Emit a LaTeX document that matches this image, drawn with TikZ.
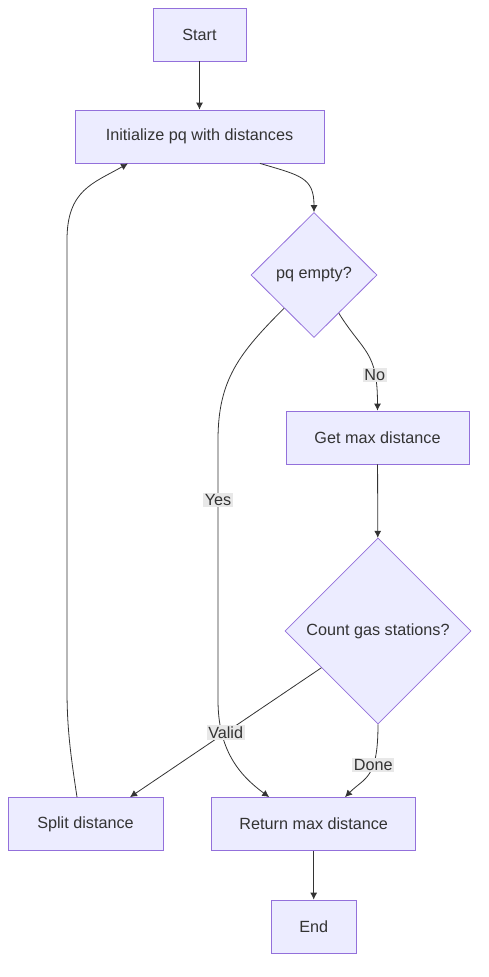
\documentclass[tikz,border=0pt]{standalone}
\usepackage{fontspec}
\setmainfont{Liberation Sans}
\usetikzlibrary{positioning,arrows,arrows.meta,shapes.geometric}

\definecolor{boxfill}{HTML}{ECECFF}
\definecolor{boxline}{HTML}{9370DB}
\definecolor{ink}{HTML}{333333}
\definecolor{lblfill}{HTML}{E8E8E8}

\begin{document}
\begin{tikzpicture}[x=1pt,y=-1pt,>={Latex[length=7pt,width=7pt]},
	every node/.style={font=\fontsize{16.2}{19}\selectfont,text=ink},
	box/.style={rectangle,draw=boxline,fill=boxfill,line width=0.8pt,minimum height=53pt,inner sep=0pt},
	decision/.style={diamond,draw=boxline,fill=boxfill,line width=0.8pt,inner sep=0pt,aspect=1},
	lbl/.style={fill=lblfill,inner sep=1.5pt},
	edge/.style={->,draw=ink,line width=0.8pt}]

			\useasboundingbox (0,0) rectangle (488,977);

			%top nodes
			\node [box,minimum width=93pt] (n1) at (199.5,34.5) {Start};
			\node [box,minimum width=249pt] (n2) at (199.5,136.5) {Initialize pq with distances};

			%decisions
			\node [decision,minimum width=126pt,minimum height=125pt] (n3) at (314,275) {pq empty?};
			\node [box,minimum width=183pt] (n4) at (377.5,437.5) {Get max distance};
			\node [decision,minimum width=186pt,minimum height=186pt] (n5) at (378,631) {Count gas stations?};

			%bottom nodes
			\node [box,minimum width=155pt] (n6) at (85.5,824) {Split distance};
			\node [box,minimum width=204pt] (n7) at (313.7,824) {Return max distance};
			\node [box,minimum width=85pt] (n8) at (313.7,926.5) {End};

			%edges
			\draw[edge] (n1) -- (n2);
			\draw[edge] ([xshift=60.5pt]n2.south) .. controls +(40,12) and +(0,-35) .. (n3.north);
			\draw[edge] (n3.-57) .. controls +(25,40) and +(0,-60) .. node[lbl,pos=0.74] {No} (n4.north);
			\draw[edge] (n3.-132) .. controls +(-45,45) and +(0,-60) .. (218,440) -- node[lbl,pos=0.23] {Yes} (218,700) .. controls +(0,50) and +(-30,-22) .. ([xshift=-44.5pt]n7.north);
			\draw[edge] (n4) -- (n5);
			\draw[edge] (n5.-147) -- node[lbl] {Valid} ([xshift=44.5pt]n6.north);
			\draw[edge] (n5.south) .. controls +(0,55) and +(20,-20) .. node[lbl,pos=0.36] {Done} ([xshift=31.3pt]n7.north);
			\draw[edge] ([xshift=-8.5pt]n6.north) .. controls +(-6,-40) and +(0,40) .. (67,690) -- (67,240) .. controls +(0,-50) and +(-35,20) .. ([xshift=-71.5pt]n2.south);
			\draw[edge] (n7) -- (n8);
		\end{tikzpicture}
\end{document}
